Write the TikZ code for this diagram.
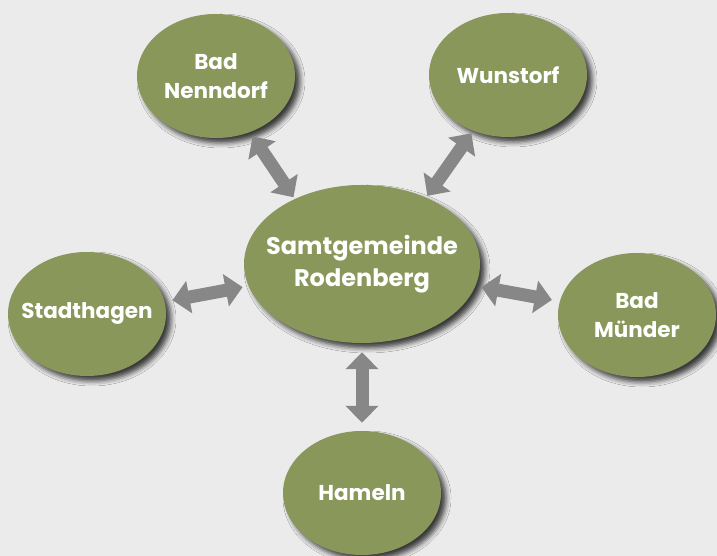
\documentclass[tikz,border=0pt]{standalone}
\usepackage{fontspec}
\setmainfont{Poppins}
\usetikzlibrary{shapes.geometric,arrows.meta,shadows.blur}
\definecolor{fond}{RGB}{235,235,235}
\definecolor{vertolive}{RGB}{137,151,91}
\definecolor{gris}{RGB}{135,135,135}
\tikzset{
	ville/.style={ellipse,fill=vertolive,text=white,align=center,inner xsep=-25pt,inner ysep=0pt,
		minimum width=158pt,minimum height=124pt,
		font=\bfseries\fontsize{21.5}{29}\selectfont,
		blur shadow={shadow xshift=5pt,shadow yshift=-5pt,shadow blur radius=5pt,shadow opacity=75}},
	lien/.style={draw=gris,line width=13pt,{Triangle[width=32pt,length=17pt]}-{Triangle[width=32pt,length=17pt]}}
}
\begin{document}
\begin{tikzpicture}[x=1pt,y=1pt]
	%FOND
	\fill[fond] (0,0) rectangle (717,556);
	\useasboundingbox (0,0) rectangle (717,556);
	%CENTRE
	\node[ville,minimum width=236pt,minimum height=158pt,font=\bfseries\fontsize{24}{32}\selectfont] (SG) at (362,292) {Samtgemeinde\\Rodenberg};
	%VILLES
	\node[ville] (BN) at (216,480) {Bad\\Nenndorf};
	\node[ville] (WU) at (508,481) {Wunstorf};
	\node[ville] (ST) at (87,242) {Stadthagen};
	\node[ville] (BM) at (637,241) {Bad\\Münder};
	\node[ville] (HA) at (362,63) {Hameln};
	%FLECHES
	\draw[lien,shorten <=2pt,shorten >=5pt] (SG.136) -- (BN.-59);
	\draw[lien,shorten <=2pt,shorten >=3pt] (SG.46) -- (WU.238);
	\draw[lien,shorten <=6pt,shorten >=8pt] (SG.191) -- (ST.9);
	\draw[lien,shorten <=6pt,shorten >=8pt] (SG.-11) -- (BM.170);
	\draw[lien,shorten <=9pt,shorten >=8pt] (SG.south) -- (HA.north);
\end{tikzpicture}
\end{document}
